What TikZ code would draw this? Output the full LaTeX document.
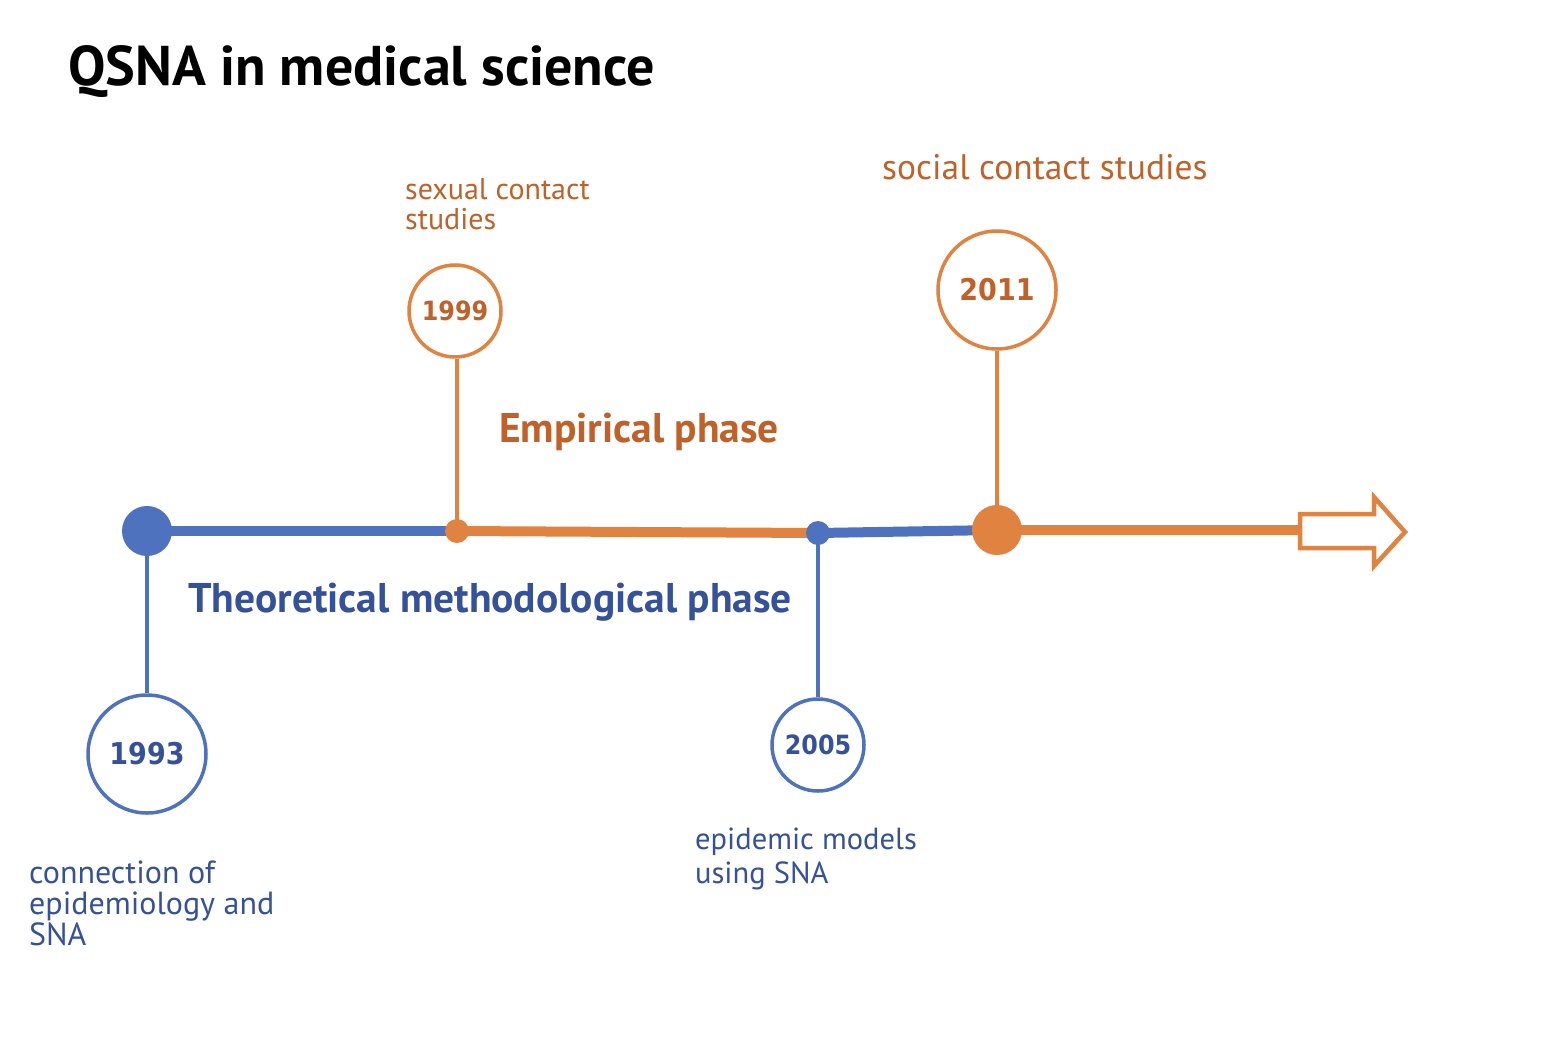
\documentclass[tikz,border=0pt]{standalone}
\usepackage{fontspec}
\setmainfont{PT Sans}
\newfontfamily\yearfont{DejaVu Sans Condensed}
\definecolor{lblue}{HTML}{4F72BE}
\definecolor{tblue}{HTML}{35519A}
\definecolor{lorange}{HTML}{E08240}
\definecolor{torange}{HTML}{BF6128}
\begin{document}
\begin{tikzpicture}[x=1pt,y=-1pt,
  bline/.style={line width=10pt,draw=lblue},
  oline/.style={line width=10pt,draw=lorange},
  stem/.style={line width=3.5pt},
  yearcirc/.style={circle,line width=3.5pt,fill=white,inner sep=0pt},
  lbl/.style={inner sep=0pt,align=left,anchor=north west}]
\useasboundingbox[fill=white] (0,0) rectangle (1544,1055);
% title
\node[inner sep=0pt,anchor=base west,font=\bfseries\fontsize{56}{60}\selectfont] (title) at (68,85) {QSNA in medical science};
% timeline points
\coordinate (p1) at (147,531);
\coordinate (p2) at (457,531);
\coordinate (p3) at (818,533);
\coordinate (p4) at (997,530);
\coordinate (p5) at (1300,530);
% segments
\draw[bline] (p1) -- (p2);
\draw[oline] (p2) -- (p3);
\draw[bline] (p3) -- (p4);
\draw[oline] (p4) -- (p5);
% hollow arrow
\draw[draw=lorange,line width=4.5pt,line join=miter,fill=white] (1300,514) -- (1374,514) -- (1374,497) -- (1405,532) -- (1374,566) -- (1374,548) -- (1300,548) -- cycle;
% year circles
\node[yearcirc,draw=lblue,minimum size=118pt,text=tblue,font=\yearfont\bfseries\fontsize{30}{32}\selectfont] (y1993) at (147,754) {1993};
\node[yearcirc,draw=lorange,minimum size=92pt,text=torange,font=\yearfont\bfseries\fontsize{26.5}{28}\selectfont] (y1999) at (455,311) {1999};
\node[yearcirc,draw=lblue,minimum size=92pt,text=tblue,font=\yearfont\bfseries\fontsize{26.5}{28}\selectfont] (y2005) at (818,745) {2005};
\node[yearcirc,draw=lorange,minimum size=118pt,text=torange,font=\yearfont\bfseries\fontsize{30}{32}\selectfont] (y2011) at (997,290) {2011};
% stems
\draw[stem,draw=lblue] (p1) -- (y1993.north);
\draw[stem,draw=lorange] (p2) -- (p2 |- y1999.south);
\draw[stem,draw=lblue] (p3) -- (y2005.north);
\draw[stem,draw=lorange] (p4) -- (y2011.south);
% dots
\fill[lblue] (p1) circle (25);
\fill[lorange] (p2) circle (12);
\fill[lblue] (p3) circle (12);
\fill[lorange] (p4) circle (25);
% phase labels
\node[inner sep=0pt,anchor=base west,text=torange,font=\bfseries\fontsize{41.5}{44}\selectfont] (emp) at (499,442) {Empirical phase};
\node[inner sep=0pt,anchor=base west,text=tblue,font=\bfseries\fontsize{41.5}{44}\selectfont] (theo) at (188,612) {Theoretical methodological phase};
% descriptions
\node[lbl,text=torange,font=\fontsize{30}{30}\selectfont] (d1999) at (405,178) {sexual contact\\studies};
\node[lbl,text=torange,font=\fontsize{35.5}{38}\selectfont] (d2011) at (882,154) {social contact studies};
\node[lbl,text=tblue,font=\fontsize{32}{31}\selectfont] (d1993) at (29,861) {connection of\\epidemiology and\\SNA};
\node[lbl,text=tblue,font=\fontsize{30.5}{34}\selectfont] (d2005) at (695,828) {epidemic models\\using SNA};
\end{tikzpicture}
\end{document}
